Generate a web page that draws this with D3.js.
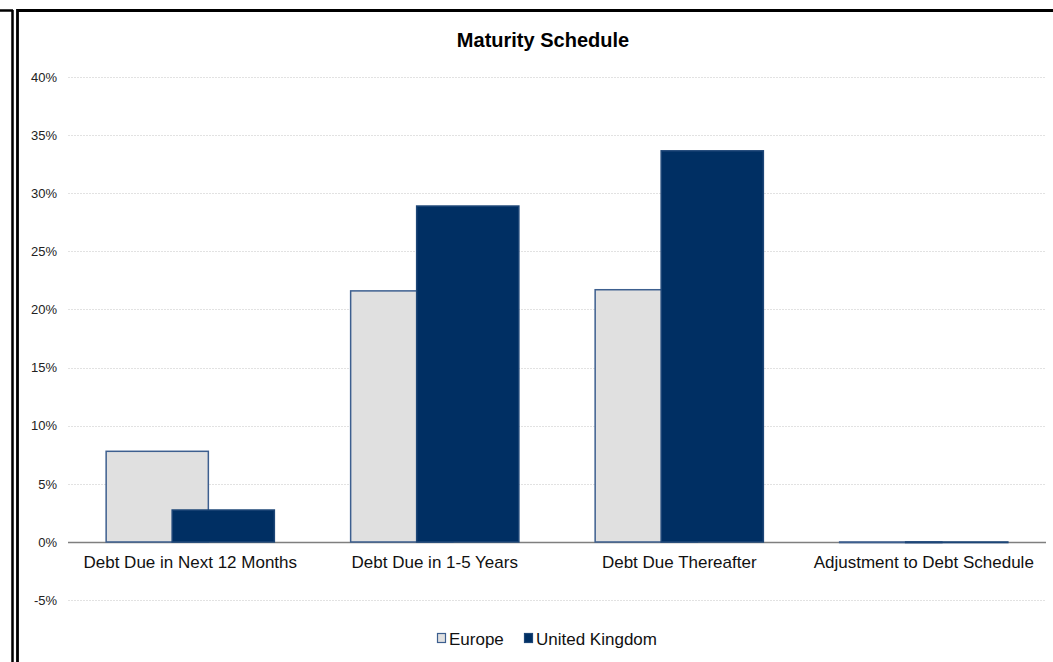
<!DOCTYPE html>
<html><head><meta charset="utf-8">
<script src="https://cdn.jsdelivr.net/npm/d3@7"></script>
<style>body{margin:0;background:#fff;}svg{display:block;font-family:"Liberation Sans",Arial,sans-serif;}</style>
</head><body>
<svg id="c" width="1053" height="662"></svg>
<script>
const categories = ["Debt Due in Next 12 Months","Debt Due in 1-5 Years","Debt Due Thereafter","Adjustment to Debt Schedule"];
const seriesNames = ["Europe","United Kingdom"];
const europe = [7.8, 21.6, 21.7, -0.05];
const uk = [2.75, 28.9, 33.65, -0.05];
const yTicks = [-5,0,5,10,15,20,25,30,35,40];
const colors = {"Europe":"#e0e0e0","United Kingdom":"#002f63"};
const strokes = {"Europe":"#3d5f8f","United Kingdom":"#1d4677"};

const svg = d3.select("#c");
// frames
svg.append("path").attr("d","M0,10.5H13M12.5,10V662").attr("stroke","#000").attr("stroke-width",2.5).attr("fill","none");
svg.append("path").attr("d","M17.5,662V10.5H1060").attr("stroke","#000").attr("stroke-width",2.8).attr("fill","none");

const x0 = 68, x1 = 1046;
const y = d3.scaleLinear().domain([-5,40]).range([600.1,77]);
const x = d3.scaleBand().domain(categories).range([x0,x1]).paddingInner(0).paddingOuter(0);
const bw = x.bandwidth()*0.418;
const off = x.bandwidth()*0.135;

// gridlines
svg.append("g").selectAll("line").data(yTicks.filter(d=>d!==0)).join("line")
  .attr("x1",x0).attr("x2",x1).attr("y1",d=>Math.round(y(d))+0.5).attr("y2",d=>Math.round(y(d))+0.5)
  .attr("stroke","#e2e2e2").attr("stroke-width",1).attr("stroke-dasharray","2,1");

// y axis labels
const yAxis = d3.axisLeft(y).tickValues(yTicks).tickFormat(d=>d+"%").tickSize(0).tickPadding(0);
const ga = svg.append("g").attr("transform","translate(57,0)").call(yAxis);
ga.select(".domain").remove();
ga.selectAll("text").attr("font-size",13).attr("fill","#222").attr("font-family","Liberation Sans, Arial, sans-serif");

// zero axis
svg.append("line").attr("x1",x0).attr("x2",x1).attr("y1",Math.round(y(0))+0.5).attr("y2",Math.round(y(0))+0.5)
  .attr("stroke","#7f7f7f").attr("stroke-width",1.3);

// bars
const data = [{name:"Europe",vals:europe,shift:-off},{name:"United Kingdom",vals:uk,shift:off}];
data.forEach(s=>{
  svg.append("g").selectAll("rect").data(s.vals).join("rect")
    .attr("x",(d,i)=>x(categories[i])+x.bandwidth()/2+s.shift-bw/2)
    .attr("y",d=>y(Math.max(d,0)))
    .attr("width",bw)
    .attr("height",d=>Math.max(Math.abs(y(d)-y(0)),0.01))
    .attr("fill",colors[s.name]).attr("stroke",strokes[s.name]).attr("stroke-width",1.5);
});

// category labels
const xAxis = d3.axisBottom(x).tickSize(0).tickPadding(0);
const gx = svg.append("g").attr("transform",`translate(0,${y(0)+14})`).call(xAxis);
gx.select(".domain").remove();
gx.selectAll("text").attr("font-size",17).attr("fill","#111").attr("font-family","Liberation Sans, Arial, sans-serif").attr("dy","0.71em");

// title
svg.append("text").attr("x",543).attr("y",47).attr("text-anchor","middle").attr("font-size",20).attr("font-weight","bold").attr("fill","#000").text("Maturity Schedule");

// legend
const leg = [{name:"Europe",x:437},{name:"United Kingdom",x:524}];
leg.forEach(l=>{
  svg.append("rect").attr("x",l.x+0.5).attr("y",633.5).attr("width",8).attr("height",9)
    .attr("fill",colors[l.name]).attr("stroke",strokes[l.name]).attr("stroke-width",1.2);
  svg.append("text").attr("x",l.x+12).attr("y",645).attr("font-size",17).attr("fill","#111").text(l.name);
});
</script>
</body></html>
